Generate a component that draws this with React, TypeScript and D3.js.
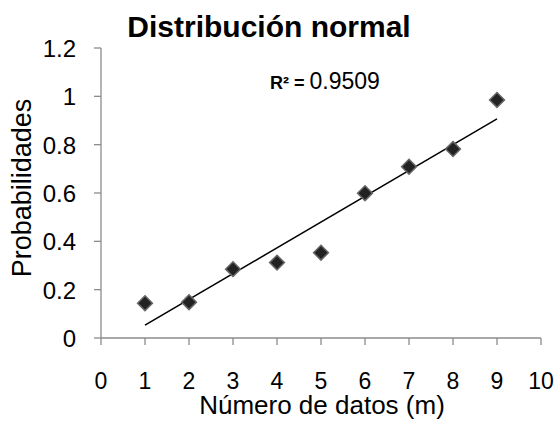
import React from "react";
import * as d3 from "d3";

const xValues = [1, 2, 3, 4, 5, 6, 7, 8, 9];
const yValues = [0.144, 0.148, 0.285, 0.312, 0.353, 0.599, 0.709, 0.782, 0.985];
const xTicks = [0, 1, 2, 3, 4, 5, 6, 7, 8, 9, 10];
const yTicks = [0, 0.2, 0.4, 0.6, 0.8, 1, 1.2];
const title = "Distribución normal";
const xTitle = "Número de datos (m)";
const yTitle = "Probabilidades";
const r2Text = "0.9509";

export default function App() {
  const W = 555, H = 423;
  const x = d3.scaleLinear().domain([0, 10]).range([101, 541]);
  const y = d3.scaleLinear().domain([0, 1.2]).range([338, 48]);
  const n = xValues.length;
  const mx = d3.mean(xValues)!;
  const my = d3.mean(yValues)!;
  let sxy = 0, sxx = 0;
  for (let i = 0; i < n; i++) {
    sxy += (xValues[i] - mx) * (yValues[i] - my);
    sxx += (xValues[i] - mx) ** 2;
  }
  const slope = sxy / sxx;
  const intercept = my - slope * mx;
  const x0 = d3.min(xValues)!, x1 = d3.max(xValues)!;
  const line = d3.line<number>().x(d => x(d)).y(d => y(intercept + slope * d));
  const diamond = d3.symbol().type(d3.symbolDiamond2).size(140)()!;
  const axisColor = "#8c8c8c";
  const font = "Liberation Sans, Arial, sans-serif";
  return (
    <svg width={W} height={H} style={{ position: "absolute", left: 0, top: 0, background: "#fff" }} fontFamily={font}>
      <rect width={W} height={H} fill="#fff" />
      <text x={269} y={37} textAnchor="middle" fontSize={30} fontWeight="bold" fill="#000">{title}</text>
      {/* y axis */}
      <line x1={x(0)} x2={x(0)} y1={y(1.2)} y2={y(0)} stroke={axisColor} strokeWidth={1.3} />
      {yTicks.map(t => (
        <g key={"y" + t}>
          <line x1={x(0) - 7} x2={x(0)} y1={y(t)} y2={y(t)} stroke={axisColor} strokeWidth={1.3} />
          <text x={76} y={y(t) + 9} textAnchor="end" fontSize={24} fill="#000">{String(t)}</text>
        </g>
      ))}
      {/* x axis */}
      <line x1={x(0)} x2={x(10)} y1={y(0)} y2={y(0)} stroke={axisColor} strokeWidth={1.3} />
      {xTicks.map(t => (
        <g key={"x" + t}>
          <line x1={x(t)} x2={x(t)} y1={y(0)} y2={y(0) + 7} stroke={axisColor} strokeWidth={1.3} />
          <text x={x(t)} y={389} textAnchor="middle" fontSize={23} fill="#000">{String(t)}</text>
        </g>
      ))}
      <text x={322} y={414} textAnchor="middle" fontSize={26} fill="#000">{xTitle}</text>
      <text transform="translate(31,188) rotate(-90)" textAnchor="middle" fontSize={27} fill="#000">{yTitle}</text>
      {/* trendline */}
      <path d={line([x0, x1]) || ""} fill="none" stroke="#000" strokeWidth={1.5} />
      {/* points */}
      {xValues.map((v, i) => (
        <path key={i} d={diamond} transform={`translate(${x(v)},${y(yValues[i])})`} fill="#222" stroke="#666" strokeWidth={1.5} />
      ))}
      <text x={270} y={89} fontSize={23} fill="#000">
        <tspan fontWeight="bold" fontSize={18}>R² = </tspan>
        <tspan>{r2Text}</tspan>
      </text>
    </svg>
  );
}
